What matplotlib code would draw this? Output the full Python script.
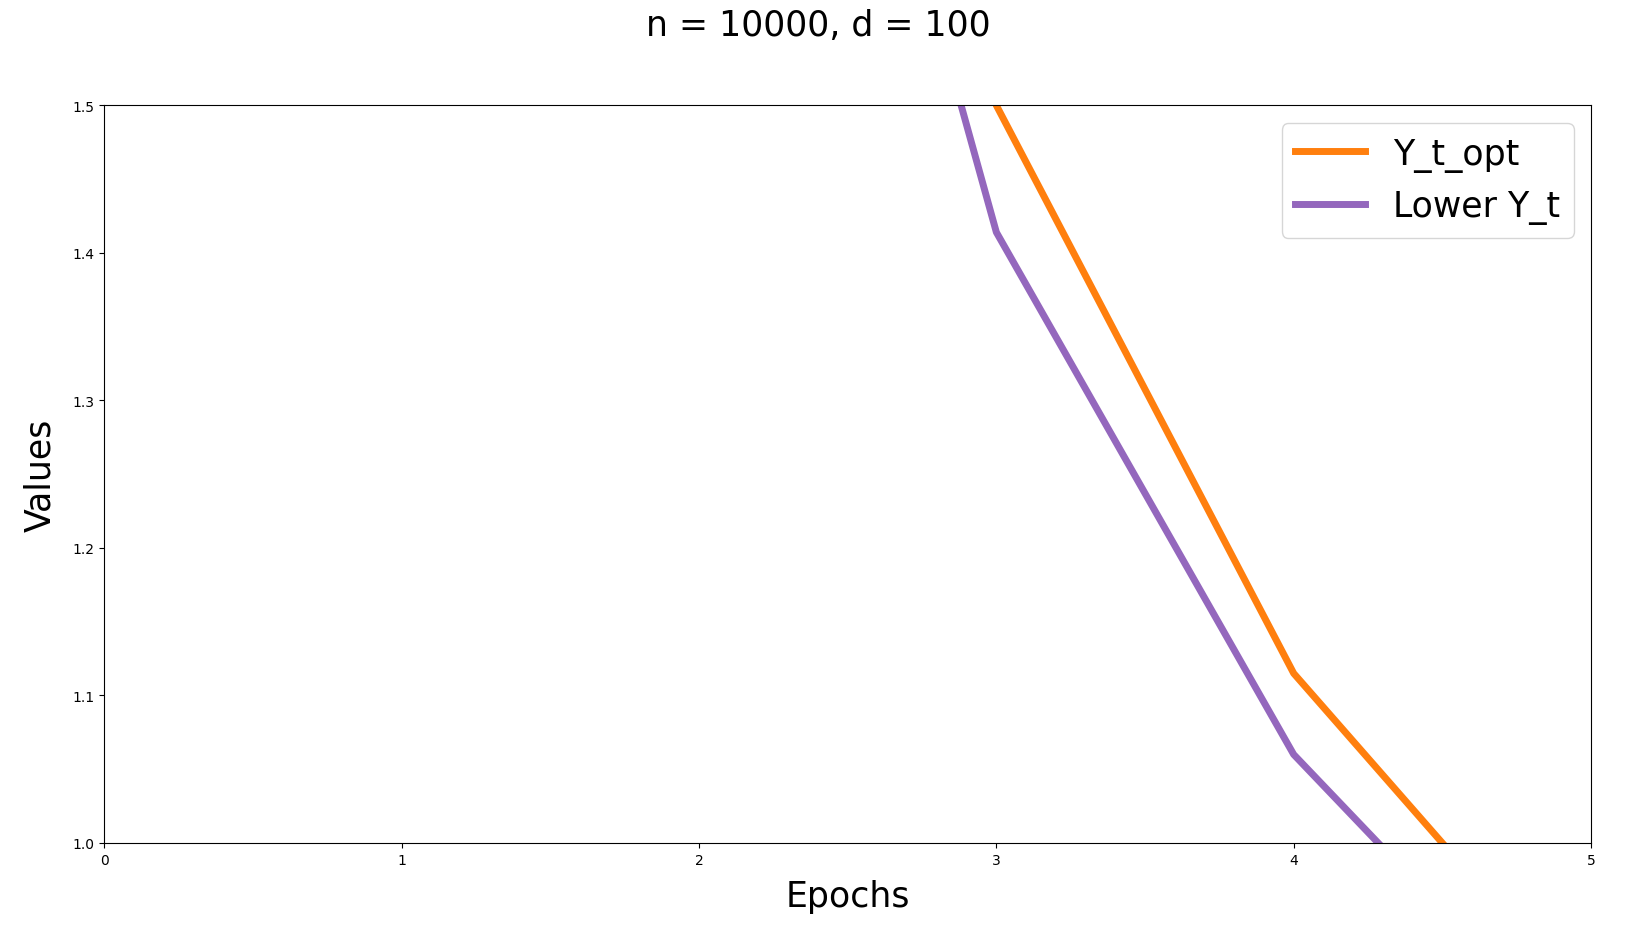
import matplotlib
matplotlib.use("Agg")
import matplotlib.pyplot as plt

epochs = [0, 1, 2, 3, 4, 5]
y_t_opt = [4.0, 3.0, 2.3, 1.5, 1.115, 0.885]
lower_y_t = [3.5, 2.7, 2.14, 1.414, 1.060, 0.849]

fig, ax = plt.subplots(figsize=(16.36, 9.29), dpi=100)
fig.subplots_adjust(left=0.0638, right=0.9725, top=0.8855, bottom=0.0915)
ax.plot(epochs, y_t_opt, color="#ff7f0e", linewidth=5, label="Y_t_opt")
ax.plot(epochs, lower_y_t, color="#9467bd", linewidth=5, label="Lower Y_t")
ax.set_xlim(0, 5)
ax.set_ylim(1.0, 1.5)
ax.set_xlabel("Epochs", fontsize=25, labelpad=9)
ax.set_ylabel("Values", fontsize=25, labelpad=11)
fig.suptitle("n = 10000, d = 100", fontsize=25, y=0.99)
ax.legend(fontsize=25, loc="upper right")
fig.savefig("out.png", dpi=100)
